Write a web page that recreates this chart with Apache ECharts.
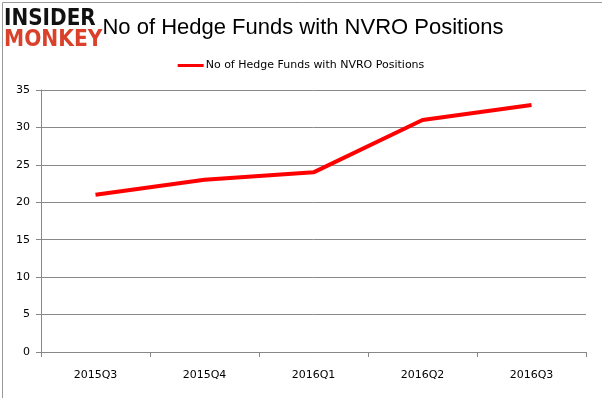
<!DOCTYPE html>
<html>
<head>
<meta charset="utf-8">
<script src="https://cdn.jsdelivr.net/npm/echarts@6/dist/echarts.min.js"></script>
<style>
html, body { margin: 0; padding: 0; background: #fff; }
#chart { width: 602px; height: 398px; }
</style>
</head>
<body>
<div id="chart"></div>
<script>
var quarters = ['2015Q3', '2015Q4', '2016Q1', '2016Q2', '2016Q3'];
var fundCounts = [21, 23, 24, 31, 33];
var seriesName = 'No of Hedge Funds with NVRO Positions';

var chart = echarts.init(document.getElementById('chart'), null, {renderer: 'canvas'});

var option = {
    animation: false,
    backgroundColor: '#fff',
    title: {
        text: 'No of Hedge Funds with NVRO Positions',
        left: 298,
        textAlign: 'center',
        top: 12,
        textStyle: {
            fontFamily: 'Liberation Sans, Arial',
            fontSize: 22,
            fontWeight: 'normal',
            color: '#000'
        }
    },
    legend: {
        top: 55,
        left: 'center',
        itemWidth: 26,
        itemHeight: 3,
        itemGap: 5,
        icon: 'rect',
        data: [seriesName],
        textStyle: {
            fontFamily: 'DejaVu Sans, Verdana',
            fontSize: 11,
            color: '#000',
            padding: [0, 0, 0, -3]
        }
    },
    grid: {
        left: 41,
        right: 16,
        top: 90,
        bottom: 46
    },
    xAxis: {
        type: 'category',
        data: quarters,
        boundaryGap: true,
        axisLine: { lineStyle: { color: '#888' } },
        axisTick: { show: true, length: 5, lineStyle: { color: '#888' } },
        axisLabel: {
            margin: 18,
            fontFamily: 'DejaVu Sans, Verdana',
            fontSize: 11,
            color: '#000'
        }
    },
    yAxis: {
        type: 'value',
        min: 0,
        max: 35,
        interval: 5,
        axisLine: { show: true, lineStyle: { color: '#888' } },
        axisTick: { show: true, length: 5, lineStyle: { color: '#888' } },
        splitLine: { lineStyle: { color: '#888' } },
        axisLabel: {
            margin: 11,
            fontFamily: 'DejaVu Sans, Verdana',
            fontSize: 11,
            color: '#000'
        }
    },
    series: [
        {
            name: seriesName,
            type: 'line',
            data: fundCounts,
            symbol: 'none',
            lineStyle: { color: '#ff0000', width: 4 },
            itemStyle: { color: '#ff0000' }
        }
    ],
    graphic: [
        {
            type: 'rect',
            left: 0,
            top: 0,
            shape: { width: 601, height: 397 },
            style: { fill: 'none', stroke: '#999', lineWidth: 1 },
            silent: true
        },
        {
            type: 'text',
            x: 4,
            y: 8,
            scaleX: 0.87,
            style: {
                text: 'INSIDER',
                fill: '#111',
                font: 'bold 23px "DejaVu Sans", sans-serif'
            }
        },
        {
            type: 'text',
            x: 4,
            y: 29,
            scaleX: 0.88,
            style: {
                text: 'MONKEY',
                fill: '#d9412b',
                font: 'bold 23px "DejaVu Sans", sans-serif'
            }
        }
    ]
};

chart.setOption(option);
</script>
</body>
</html>
